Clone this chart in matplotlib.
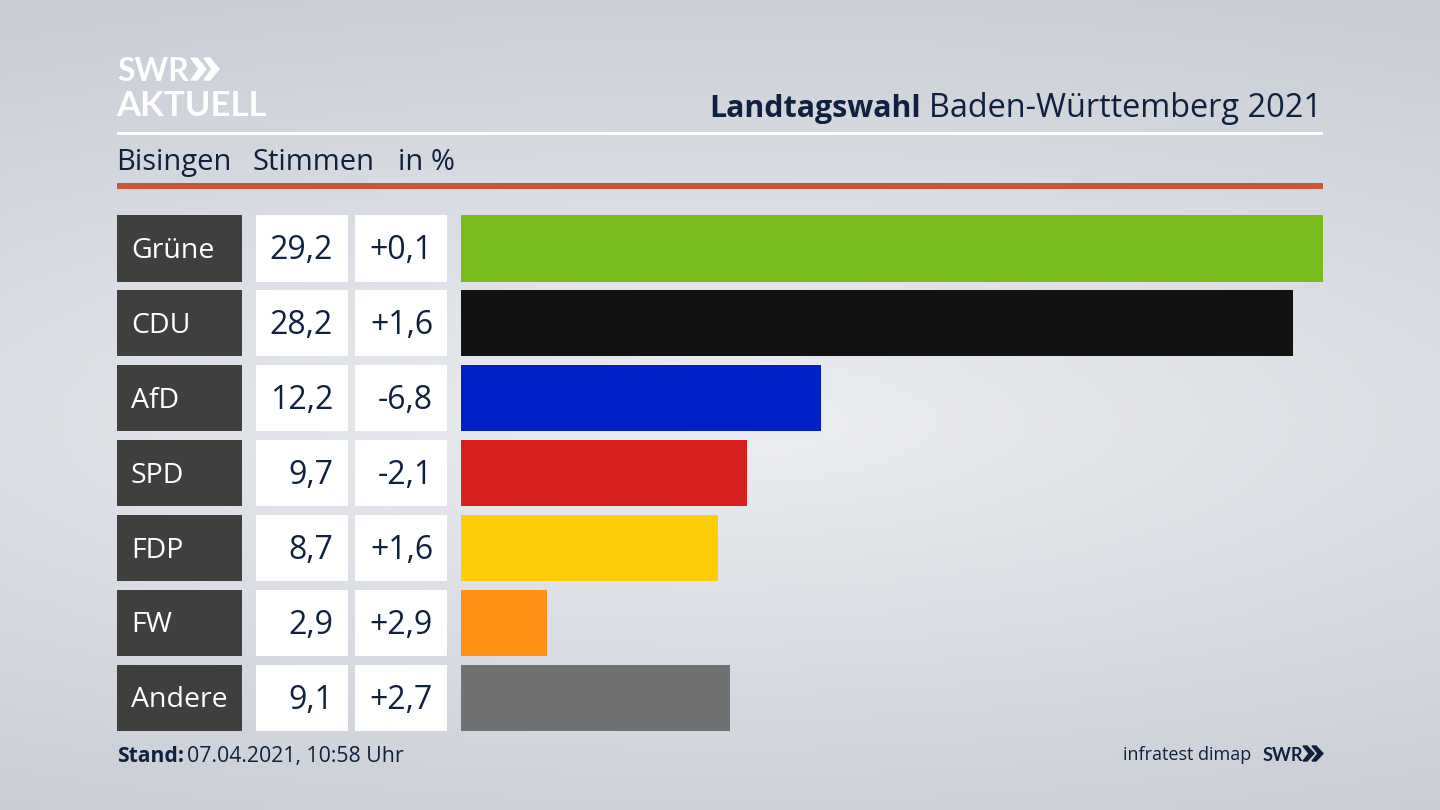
import numpy as np
import matplotlib
matplotlib.use("Agg")
import matplotlib.pyplot as plt
from matplotlib.patches import Rectangle, Polygon
from matplotlib.colors import LinearSegmentedColormap

parties = ["Grüne", "CDU", "AfD", "SPD", "FDP", "FW", "Andere"]
votes = [29.2, 28.2, 12.2, 9.7, 8.7, 2.9, 9.1]
changes = ["+0,1", "+1,6", "-6,8", "-2,1", "+1,6", "+2,9", "+2,7"]
colors = ["#78bc1b", "#121212", "#0020c8", "#d6201f", "#ffcc08", "#ff9015", "#707173"]

FONT = ["Open Sans", "DejaVu Sans"]
LOGO = ["Lato", "DejaVu Sans"]
NAVY = "#10213f"
W, H = 1440, 810
fig = plt.figure(figsize=(W / 100, H / 100), dpi=100)
bg = fig.add_axes([0, 0, 1, 1])
bg.set_xlim(0, W); bg.set_ylim(H, 0); bg.axis("off")

# background gradient: light band through the middle, darker at top and bottom
yy, xx = np.mgrid[0:1:200j, 0:1:356j]
d = np.clip(np.sqrt(((xx - 0.5) / 1.05) ** 2 + ((yy - 0.52) / 0.56) ** 2), 0, 1)
cmap = LinearSegmentedColormap.from_list("b", ["#eceef2", "#c8ccd4"])
bg.imshow(d, extent=(0, W, H, 0), cmap=cmap, aspect="auto", zorder=0, vmin=0, vmax=1)

# header
bg.text(117, 81, "SWR", fontsize=23, fontweight="bold", color="white", family=LOGO, va="baseline")
bg.text(116, 116, "AKTUELL", fontsize=25, fontweight="bold", color="white", family=LOGO, va="baseline")
for ox in (191, 204):
    bg.add_patch(Polygon([[ox, 58], [ox + 6, 58], [ox + 15, 69], [ox + 6, 80], [ox, 80], [ox + 8, 69]], color="white", zorder=3))
bg.text(1322, 117, "Baden-Württemberg 2021", fontsize=23.4, color=NAVY, family=FONT, ha="right", va="baseline")
bg.text(921, 117, "Landtagswahl", fontsize=21.9, fontweight="bold", color=NAVY, family=FONT, ha="right", va="baseline")
bg.add_patch(Rectangle((117, 132), 1206, 3, color="white", lw=0, zorder=3))
bg.add_patch(Rectangle((117, 183), 1206, 6, color="#cb5539", lw=0, zorder=3))
for x, s in [(116, "Bisingen"), (253, "Stimmen"), (398, "in %")]:
    bg.text(x, 170, s, fontsize=21, color=NAVY, family=FONT, va="baseline")

# rows
row_tops = 215 + 74.95 * np.arange(len(parties))
rh = 66.5
for top, p, v, c in zip(row_tops, parties, votes, changes):
    bg.add_patch(Rectangle((117, top), 125, rh, color="#3f3f3e", lw=0, zorder=2))
    bg.add_patch(Rectangle((256, top), 92, rh, color="white", lw=0, zorder=2))
    bg.add_patch(Rectangle((355, top), 92, rh, color="white", lw=0, zorder=2))
    cy = top + rh / 2 + 2.5
    bg.text(131, cy, p, fontsize=20.5, color="white", family=FONT, va="center", zorder=3)
    bg.text(333, cy, f"{v:.1f}".replace(".", ","), fontsize=23, color=NAVY, family=FONT, va="center", ha="right", zorder=3)
    bg.text(433, cy, c, fontsize=23, color=NAVY, family=FONT, va="center", ha="right", zorder=3)

# bars
ax = fig.add_axes([461 / W, 1 - (215 + 6 * 74.95 + rh) / H, (1323 - 461) / W, (6 * 74.95 + rh) / H])
ax.patch.set_alpha(0)
ypos = np.arange(len(parties))
ax.barh(ypos, votes, height=rh / 74.95, color=colors, linewidth=0)
ax.set_xlim(0, 29.2)
ax.set_ylim(6 + rh / 74.95 / 2, -rh / 74.95 / 2)
ax.axis("off")

# footer
bg.text(117, 762, "Stand:", fontsize=15.2, fontweight="bold", color=NAVY, family=FONT, va="baseline")
bg.text(187, 762, "07.04.2021, 10:58 Uhr", fontsize=15.3, color=NAVY, family=FONT, va="baseline")
bg.text(1251, 760, "infratest dimap", fontsize=13, color=NAVY, family=FONT, ha="right", va="baseline")
bg.text(1263, 761, "SWR", fontsize=13, fontweight="bold", color=NAVY, family=LOGO, va="baseline")
for ox in (1303, 1312):
    bg.add_patch(Polygon([[ox, 746], [ox + 4, 746], [ox + 11, 753.5], [ox + 4, 761], [ox, 761], [ox + 6, 753.5]], color=NAVY, zorder=3))

fig.savefig("out.png", dpi=100)
